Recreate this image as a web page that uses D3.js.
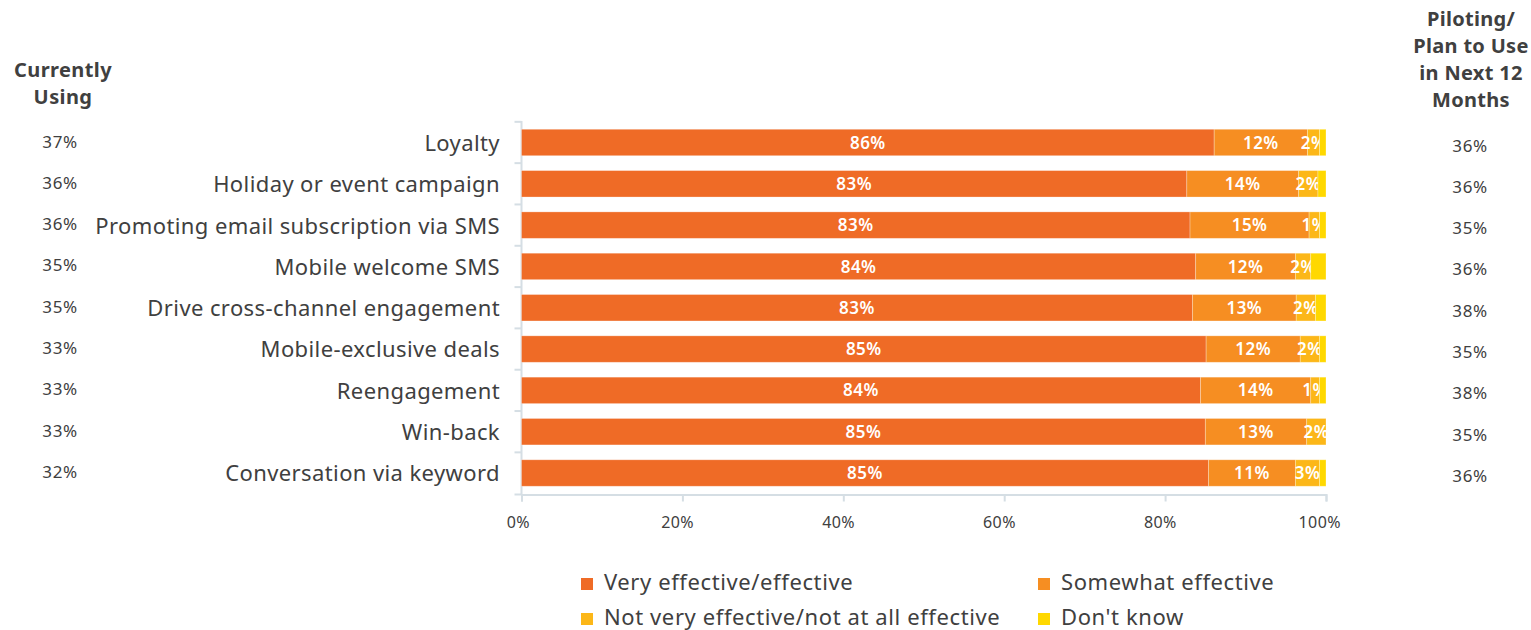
<!DOCTYPE html>
<html>
<head>
<meta charset="utf-8">
<script src="https://cdn.jsdelivr.net/npm/d3@7"></script>
<style>
  html, body { margin: 0; padding: 0; background: #fff; }
  svg { display: block; }
  text { font-family: "Noto Sans", sans-serif; }
</style>
</head>
<body>
<svg id="chart" width="1531" height="630"></svg>
<script>
const categories = [
  "Loyalty",
  "Holiday or event campaign",
  "Promoting email subscription via SMS",
  "Mobile welcome SMS",
  "Drive cross-channel engagement",
  "Mobile-exclusive deals",
  "Reengagement",
  "Win-back",
  "Conversation via keyword"
];
const seriesNames = ["Very effective/effective", "Somewhat effective", "Not very effective/not at all effective", "Don't know"];
const veryEffective     = [86.1, 82.7, 83.1, 83.8, 83.4, 85.1, 84.4, 85.0, 85.4];
const somewhatEffective = [11.6, 13.9, 14.8, 12.4, 12.9, 11.7, 13.7, 12.6, 10.8];
const notEffective      = [1.5, 2.4, 1.3, 1.9, 2.4, 2.4, 1.1, 2.4, 3.0];
const dontKnow          = [0.8, 1.0, 0.8, 1.9, 1.3, 0.8, 0.8, 0.0, 0.8];
const currentlyUsing    = [37, 36, 36, 35, 35, 33, 33, 33, 32];
const planToUse         = [36, 36, 35, 36, 38, 35, 38, 35, 36];
const xTicks            = [0, 20, 40, 60, 80, 100];
const leftHeader  = ["Currently", "Using"];
const rightHeader = ["Piloting/", "Plan to Use", "in Next 12", "Months"];

const colors = ["#EF6B26", "#F68E22", "#FCB718", "#FFD800"];
const labelSeries = [true, true, true, false];

const svg = d3.select("#chart");
const textColor = "#404040";
const axisColor = "#D5DEE4";

const x = d3.scaleLinear().domain([0, 100]).range([521.5, 1326]);
const y = d3.scaleBand().domain(categories).range([121, 494.5]).paddingInner(0.36).paddingOuter(0.2);

const rows = categories.map((c, i) => ({
  cat: c,
  vals: [veryEffective[i], somewhatEffective[i], notEffective[i], dontKnow[i]]
}));

// axes
const yAxisG = svg.append("g");
yAxisG.append("line")
  .attr("x1", x(0)).attr("x2", x(0))
  .attr("y1", y.range()[0]).attr("y2", y.range()[1])
  .attr("stroke", axisColor).attr("stroke-width", 2);
const gap = y.step() * y.paddingInner() / 2;
const boundaries = categories.map(c => y(c) - gap).concat([y.range()[1]]);
yAxisG.selectAll("line.tick").data(boundaries).join("line")
  .attr("class", "tick")
  .attr("x1", x(0) - 7).attr("x2", x(0))
  .attr("y1", d => d).attr("y2", d => d)
  .attr("stroke", axisColor).attr("stroke-width", 2);

const xAxis = d3.axisBottom(x).tickValues(xTicks).tickFormat(d => d + "%").tickSize(7).tickPadding(15);
const xg = svg.append("g").attr("transform", `translate(0,${y.range()[1]})`).call(xAxis);
xg.select(".domain").attr("stroke", axisColor).attr("stroke-width", 2);
xg.selectAll(".tick line").attr("stroke", axisColor).attr("stroke-width", 2);
xg.selectAll(".tick text").attr("fill", textColor).style("font-size", "16px")
  .style("letter-spacing", "0.4px")
  .style("font-family", "Noto Sans, sans-serif")
  .each(function() {
    const w = this.getComputedTextLength();
    d3.select(this).attr("dx", -0.16 * w);
  });

// bars
const rowG = svg.selectAll("g.row").data(rows).join("g").attr("class", "row");
rowG.each(function(r) {
  const g = d3.select(this);
  let acc = 0;
  r.vals.forEach((v, k) => {
    const x0 = x(acc), x1 = x(acc + v);
    acc += v;
    if (v <= 0) return;
    g.append("rect")
      .attr("x", x0).attr("y", y(r.cat))
      .attr("width", x1 - x0).attr("height", y.bandwidth())
      .attr("fill", colors[k])
      .attr("stroke", "rgba(255,255,255,0.35)").attr("stroke-width", 0.8);
    if (labelSeries[k]) {
      g.append("text")
        .attr("x", (x0 + x1) / 2).attr("y", y(r.cat) + y.bandwidth() / 2 + 1.5)
        .attr("text-anchor", "middle").attr("dominant-baseline", "middle")
        .attr("fill", "#fff").style("font-size", "17px").style("font-weight", "600")
        .style("letter-spacing", "0.5px")
        .text(Math.round(v) + "%");
    }
  });
  g.append("text")
    .attr("x", 500).attr("y", y(r.cat) + y.bandwidth() / 2 + 2.5)
    .attr("text-anchor", "end").attr("dominant-baseline", "middle")
    .attr("fill", textColor).style("font-size", "22px").style("letter-spacing", "0.4px")
    .text(r.cat);
});

// side columns
svg.selectAll("text.cu").data(currentlyUsing).join("text")
  .attr("class", "cu")
  .attr("x", 60).attr("y", (d, i) => y(categories[i]) + y.bandwidth() / 2 + 0.5)
  .attr("text-anchor", "middle").attr("dominant-baseline", "middle")
  .attr("fill", textColor).style("font-size", "17px").style("letter-spacing", "0.6px")
  .text(d => d + "%");
svg.selectAll("text.pu").data(planToUse).join("text")
  .attr("class", "pu")
  .attr("x", 1470).attr("y", (d, i) => y(categories[i]) + y.bandwidth() / 2 + 4.5)
  .attr("text-anchor", "middle").attr("dominant-baseline", "middle")
  .attr("fill", textColor).style("font-size", "17px").style("letter-spacing", "0.6px")
  .text(d => d + "%");

svg.selectAll("text.lh").data(leftHeader).join("text")
  .attr("class", "lh")
  .attr("x", 63).attr("y", (d, i) => 72 + i * 27)
  .attr("text-anchor", "middle").attr("dominant-baseline", "middle")
  .attr("fill", textColor).style("font-size", "20px").style("font-weight", "700")
  .style("letter-spacing", "0.4px")
  .text(d => d);
svg.selectAll("text.rh").data(rightHeader).join("text")
  .attr("class", "rh")
  .attr("x", 1471).attr("y", (d, i) => 21 + i * 26.7)
  .attr("text-anchor", "middle").attr("dominant-baseline", "middle")
  .attr("fill", textColor).style("font-size", "20px").style("font-weight", "700")
  .style("letter-spacing", "0.3px")
  .text(d => d);

// legend
const legendPos = [[581, 584], [1038, 584], [581, 619], [1038, 619]];
const lg = svg.selectAll("g.legend").data(seriesNames).join("g").attr("class", "legend")
  .attr("transform", (d, i) => `translate(${legendPos[i][0]},${legendPos[i][1]})`);
lg.append("rect").attr("x", 0).attr("y", -6).attr("width", 12).attr("height", 12)
  .attr("fill", (d, i) => colors[i]);
lg.append("text").attr("x", 23).attr("y", 0).attr("dominant-baseline", "middle")
  .attr("fill", textColor).style("font-size", "22px").style("letter-spacing", "0.6px")
  .text(d => d);
</script>
</body>
</html>
